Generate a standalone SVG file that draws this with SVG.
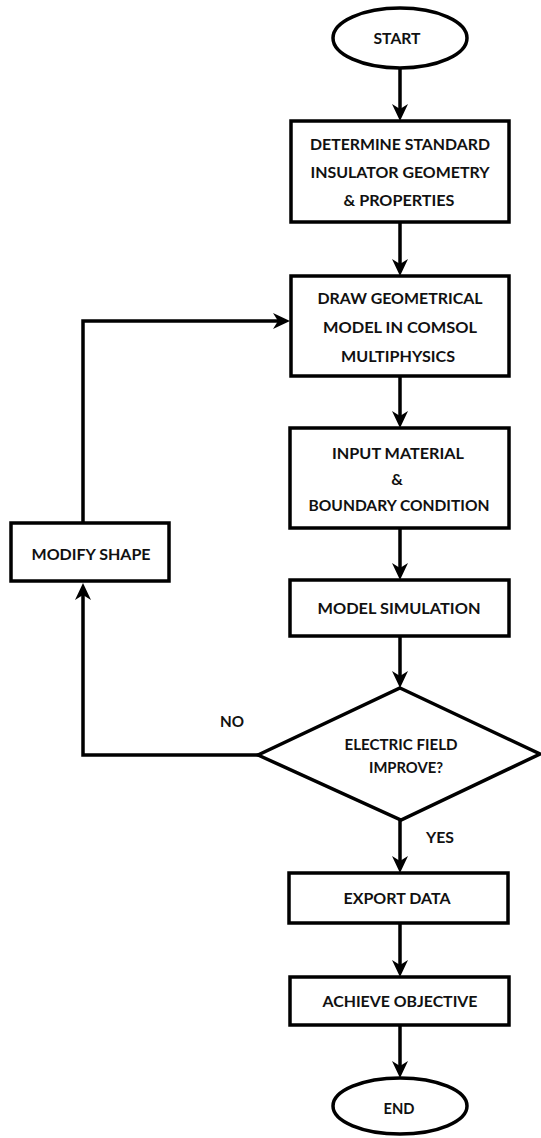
<svg xmlns="http://www.w3.org/2000/svg" width="541" height="1138" viewBox="0 0 541 1138">
<style>
.shape{fill:#fff;stroke:#000;stroke-width:3.5}
.conn{fill:none;stroke:#000;stroke-width:3.5;marker-end:url(#ah)}
text{font-family:Lato,"Open Sans","Liberation Sans",sans-serif;font-weight:700;font-size:16px;fill:#111;text-anchor:middle}
</style>
<defs>
<marker id="ah" markerUnits="userSpaceOnUse" markerWidth="20" markerHeight="20" viewBox="0 -10 20 20" refX="8" refY="0" orient="auto">
<path d="M17,0 L0,-8 L5,0 L0,8 Z" fill="#000"/>
</marker>
</defs>
<rect width="541" height="1138" fill="#fff"/>
<g id="connectors">
<path class="conn" d="M400,68 V112"/>
<path class="conn" d="M400,222 V267"/>
<path class="conn" d="M400,376 V419"/>
<path class="conn" d="M400,528 V571"/>
<path class="conn" d="M400,636 V679"/>
<path class="conn" d="M400,820 V864"/>
<path class="conn" d="M400,923 V968"/>
<path class="conn" d="M400,1025 V1069"/>
<path class="conn" d="M258,755 H83 V592"/>
<path class="conn" d="M83,523 V321 H281"/>
<text x="232" y="727" textLength="24" lengthAdjust="spacingAndGlyphs">NO</text>
<text x="440" y="843" textLength="28" lengthAdjust="spacingAndGlyphs">YES</text>
</g>
<g id="start">
<ellipse class="shape" cx="400" cy="38" rx="67" ry="30"/>
<text x="397" y="44" textLength="47" lengthAdjust="spacingAndGlyphs">START</text>
</g>
<g id="determine">
<rect class="shape" x="291" y="121" width="218" height="101"/>
<text x="400" y="150" textLength="180" lengthAdjust="spacingAndGlyphs">DETERMINE STANDARD</text>
<text x="400" y="178" textLength="179" lengthAdjust="spacingAndGlyphs">INSULATOR GEOMETRY</text>
<text x="399" y="206" textLength="111" lengthAdjust="spacingAndGlyphs">&amp; PROPERTIES</text>
</g>
<g id="draw">
<rect class="shape" x="291" y="276" width="218" height="100"/>
<text x="400" y="304" textLength="165" lengthAdjust="spacingAndGlyphs">DRAW GEOMETRICAL</text>
<text x="400" y="333" textLength="154" lengthAdjust="spacingAndGlyphs">MODEL IN COMSOL</text>
<text x="398" y="362" textLength="114" lengthAdjust="spacingAndGlyphs">MULTIPHYSICS</text>
</g>
<g id="input">
<rect class="shape" x="290" y="428" width="219" height="100"/>
<text x="398" y="459" textLength="132" lengthAdjust="spacingAndGlyphs">INPUT MATERIAL</text>
<text x="397" y="485">&amp;</text>
<text x="399" y="511" textLength="181" lengthAdjust="spacingAndGlyphs">BOUNDARY CONDITION</text>
</g>
<g id="simulation">
<rect class="shape" x="290" y="580" width="219" height="56"/>
<text x="399" y="614" textLength="163" lengthAdjust="spacingAndGlyphs">MODEL SIMULATION</text>
</g>
<g id="decision">
<polygon class="shape" points="400,688 540,754 401,820 258,755"/>
<text x="401" y="750" textLength="113" lengthAdjust="spacingAndGlyphs">ELECTRIC FIELD</text>
<text x="406" y="773" textLength="74" lengthAdjust="spacingAndGlyphs">IMPROVE?</text>
</g>
<g id="modify">
<rect class="shape" x="11" y="523" width="158" height="58"/>
<text x="91" y="560" textLength="119" lengthAdjust="spacingAndGlyphs">MODIFY SHAPE</text>
</g>
<g id="export">
<rect class="shape" x="289" y="873" width="219" height="50"/>
<text x="397" y="904" textLength="107" lengthAdjust="spacingAndGlyphs">EXPORT DATA</text>
</g>
<g id="achieve">
<rect class="shape" x="290" y="977" width="219" height="48"/>
<text x="400" y="1007" textLength="155" lengthAdjust="spacingAndGlyphs">ACHIEVE OBJECTIVE</text>
</g>
<g id="end">
<ellipse class="shape" cx="400" cy="1106" rx="67" ry="28"/>
<text x="399" y="1114" textLength="31" lengthAdjust="spacingAndGlyphs">END</text>
</g>
</svg>
